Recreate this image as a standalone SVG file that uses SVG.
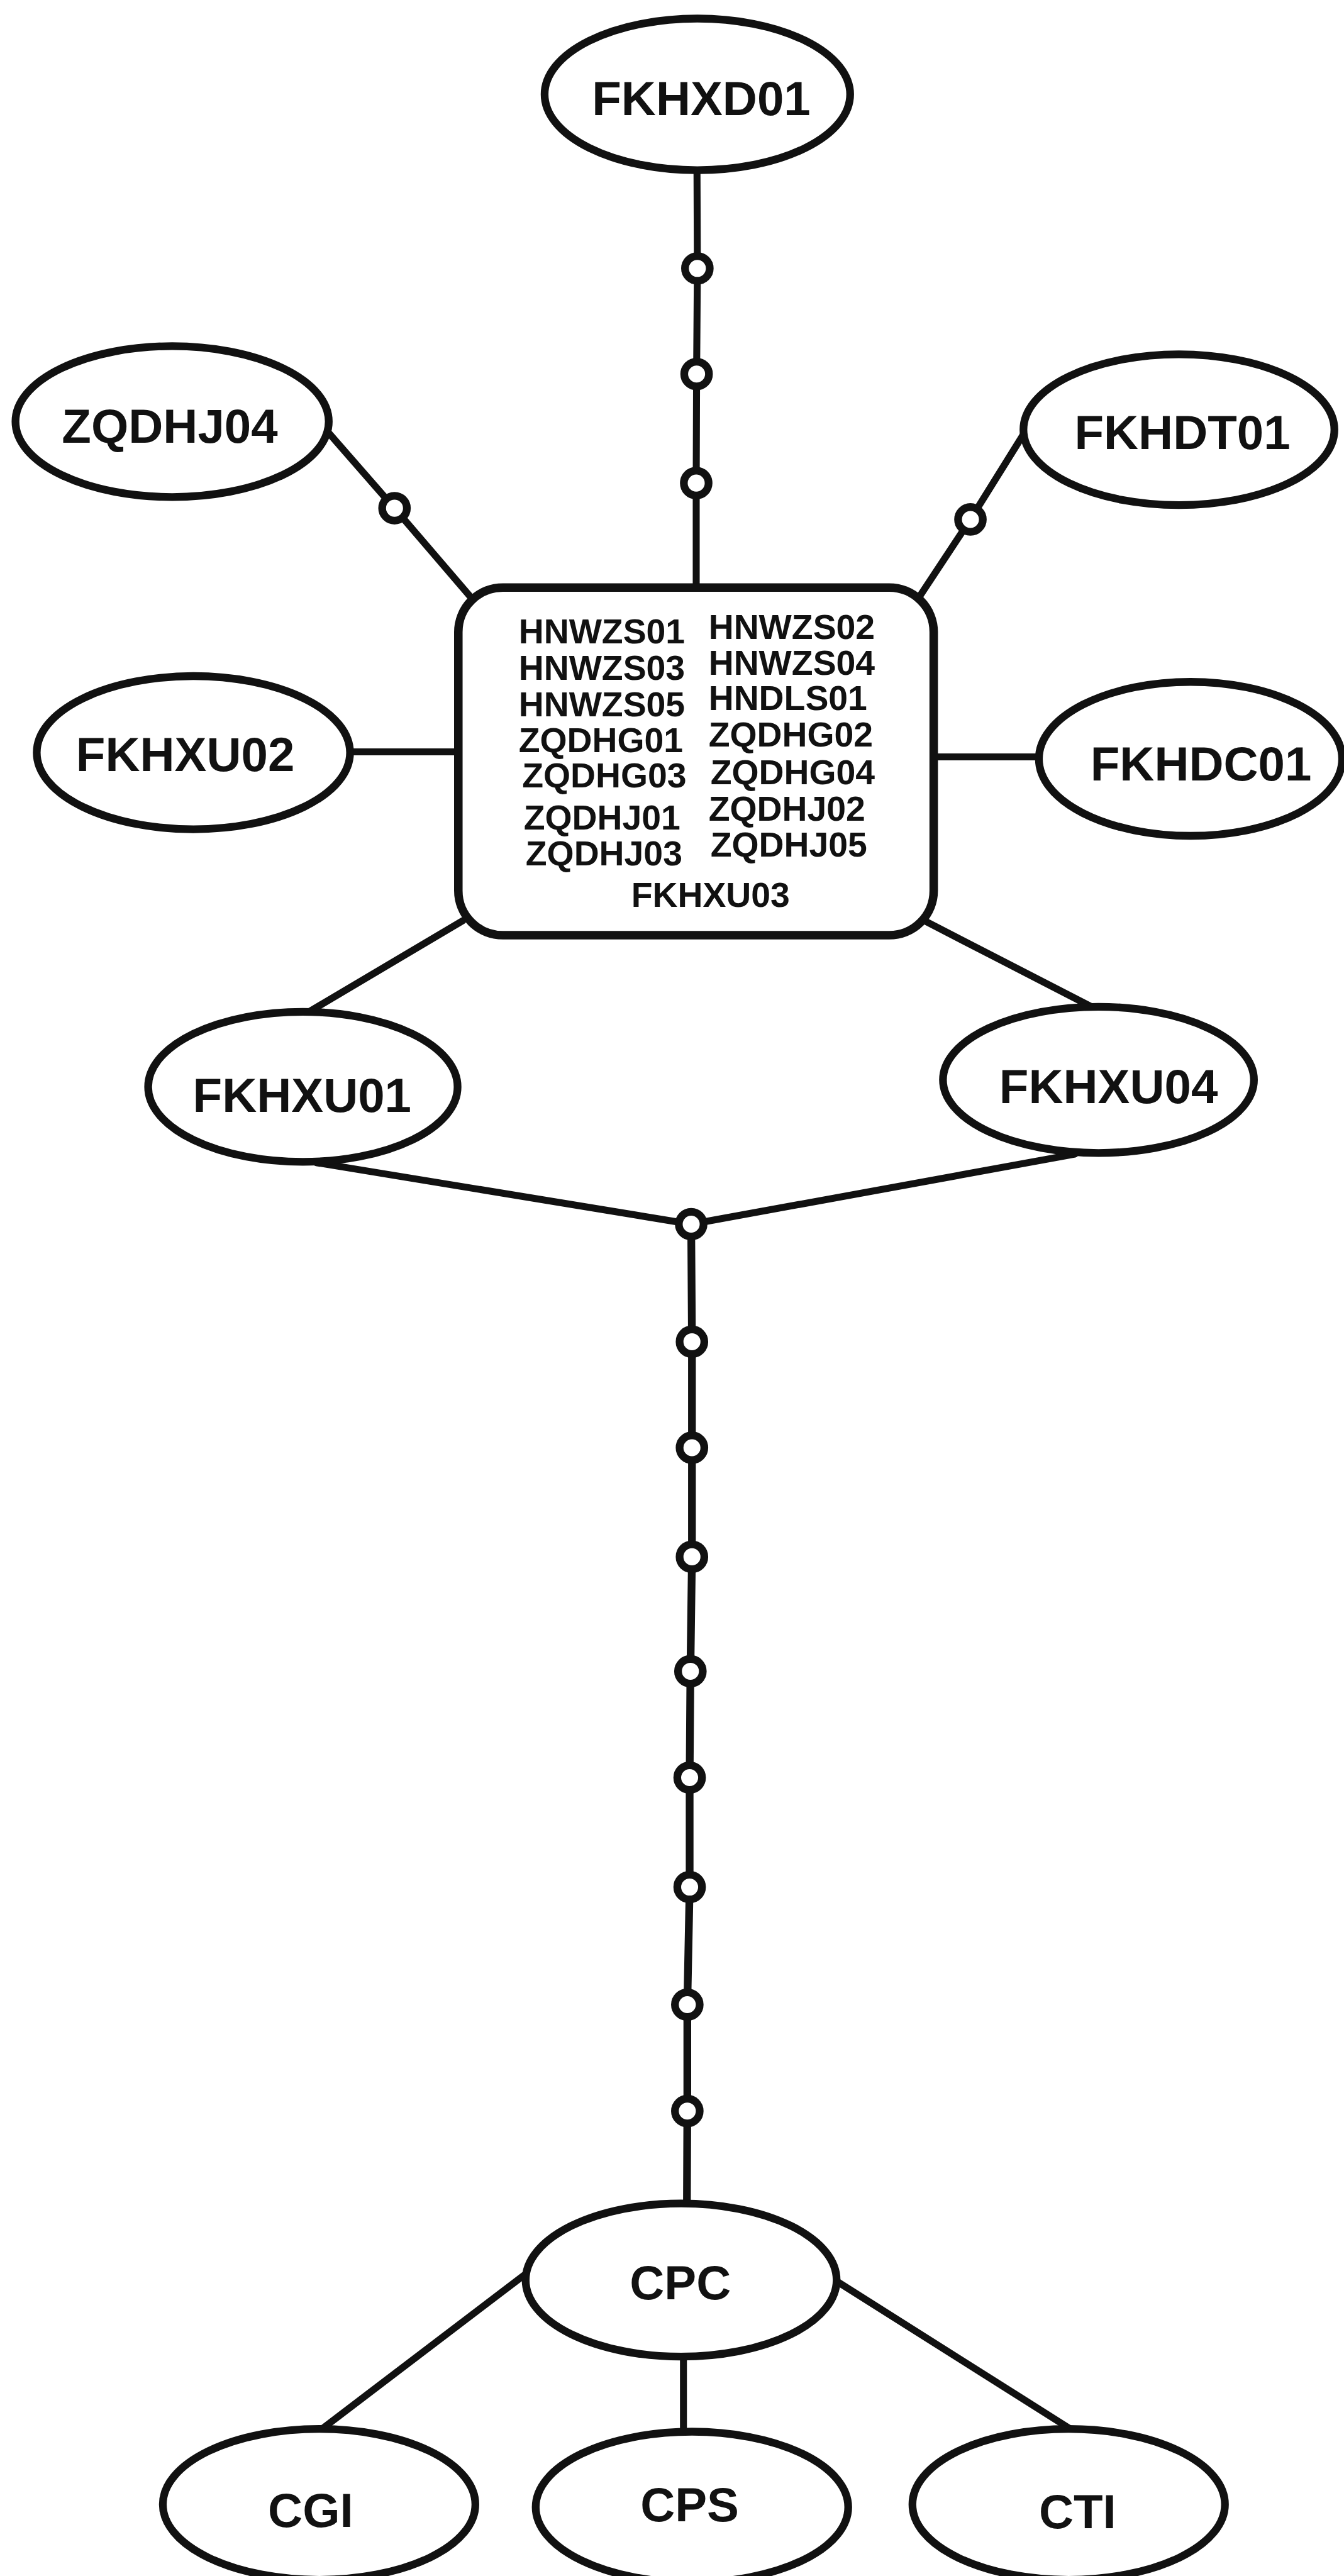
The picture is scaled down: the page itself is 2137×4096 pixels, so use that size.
<svg xmlns="http://www.w3.org/2000/svg" width="2137" height="4096" viewBox="0 0 2137 4096">
<style>
.n{fill:#fff;stroke:#111;stroke-width:20}
.c{fill:none;stroke:#111;stroke-width:18;stroke-linecap:round;stroke-linejoin:round}
.d{fill:#fff;stroke:#111;stroke-width:20}
.t{font-family:"Liberation Sans",Arial,sans-serif;font-weight:bold;font-size:124px;fill:#111;text-anchor:middle}
.s{font-family:"Liberation Sans",Arial,sans-serif;font-weight:bold;font-size:90px;fill:#111}
</style>
<rect x="0" y="0" width="2137" height="4096" fill="#fff"/>
<g transform="scale(0.615)">
<g id="connectors">
<polyline class="c" points="1802,440 1803,694 1801,967 1800,1249 1800,1519"/>
<polyline class="c" points="846,1115 1020,1314 1219,1546"/>
<polyline class="c" points="2651,1115 2509,1343 2375,1546"/>
<line class="c" x1="904" y1="1944" x2="1185" y2="1944"/>
<line class="c" x1="2414" y1="1957" x2="2689" y2="1957"/>
<line class="c" x1="1197" y1="2380" x2="799" y2="2616"/>
<line class="c" x1="2389" y1="2380" x2="2824" y2="2604"/>
<line class="c" x1="818" y1="3006" x2="1787" y2="3165"/>
<line class="c" x1="2779" y1="2984" x2="1787" y2="3165"/>
<polyline class="c" style="stroke-width:20" points="1787,3165 1789,3469 1789,3743 1789,4025 1785,4321 1783,4596 1783,4879 1777,5183 1777,5458 1776,5697"/>
<line class="c" x1="1354" y1="5883" x2="831" y2="6281"/>
<line class="c" x1="1767" y1="6092" x2="1767" y2="6287"/>
<line class="c" x1="2163" y1="5898" x2="2769" y2="6281"/>
<g id="dots">
<circle class="d" cx="1803" cy="694" r="32"/>
<circle class="d" cx="1801" cy="967" r="32"/>
<circle class="d" cx="1800" cy="1249" r="32"/>
<circle class="d" cx="1020" cy="1314" r="32"/>
<circle class="d" cx="2509" cy="1343" r="32"/>
<circle class="d" cx="1787" cy="3165" r="32"/>
<circle class="d" cx="1789" cy="3469" r="32"/>
<circle class="d" cx="1789" cy="3743" r="32"/>
<circle class="d" cx="1789" cy="4025" r="32"/>
<circle class="d" cx="1785" cy="4321" r="32"/>
<circle class="d" cx="1783" cy="4596" r="32"/>
<circle class="d" cx="1783" cy="4879" r="32"/>
<circle class="d" cx="1777" cy="5183" r="32"/>
<circle class="d" cx="1777" cy="5458" r="32"/>
</g>
</g>
<g id="FKHXD01"><ellipse class="n" cx="1803" cy="244" rx="395" ry="196"/><text class="t" x="1813" y="297">FKHXD01</text></g>
<g id="ZQDHJ04"><ellipse class="n" cx="445" cy="1090" rx="405" ry="195"/><text class="t" x="439" y="1144">ZQDHJ04</text></g>
<g id="FKHDT01"><ellipse class="n" cx="3048" cy="1111" rx="402" ry="195"/><text class="t" x="3057" y="1161">FKHDT01</text></g>
<g id="FKHXU02"><ellipse class="n" cx="500" cy="1946" rx="405" ry="198"/><text class="t" x="479" y="1994">FKHXU02</text></g>
<g id="FKHDC01"><ellipse class="n" cx="3078" cy="1962" rx="392" ry="199"/><text class="t" x="3105" y="2018">FKHDC01</text></g>
<g id="hub">
<rect x="1185" y="1519" width="1229" height="899" rx="115" ry="115" fill="#fff" stroke="#111" stroke-width="22"/>
<text class="s" x="1341" y="1663">HNWZS01</text>
<text class="s" x="1341" y="1758">HNWZS03</text>
<text class="s" x="1341" y="1852">HNWZS05</text>
<text class="s" x="1341" y="1944">ZQDHG01</text>
<text class="s" x="1350" y="2035">ZQDHG03</text>
<text class="s" x="1354" y="2144">ZQDHJ01</text>
<text class="s" x="1359" y="2238">ZQDHJ03</text>
<text class="s" x="1832" y="1652">HNWZS02</text>
<text class="s" x="1832" y="1744">HNWZS04</text>
<text class="s" x="1832" y="1836">HNDLS01</text>
<text class="s" x="1832" y="1930">ZQDHG02</text>
<text class="s" x="1837" y="2028">ZQDHG04</text>
<text class="s" x="1832" y="2122">ZQDHJ02</text>
<text class="s" x="1837" y="2214">ZQDHJ05</text>
<text class="s" x="1837" y="2344" text-anchor="middle">FKHXU03</text>
</g>
<g id="FKHXU01"><ellipse class="n" cx="783" cy="2810" rx="400" ry="194"/><text class="t" x="781" y="2874">FKHXU01</text></g>
<g id="FKHXU04"><ellipse class="n" cx="2840" cy="2792" rx="402" ry="189"/><text class="t" x="2866" y="2852">FKHXU04</text></g>
<g id="CPC"><ellipse class="n" cx="1761" cy="5895" rx="402" ry="198"/><text class="t" x="1759" y="5944">CPC</text></g>
<g id="CGI"><ellipse class="n" cx="825" cy="6475" rx="404" ry="195"/><text class="t" x="803" y="6534">CGI</text></g>
<g id="CPS"><ellipse class="n" cx="1789" cy="6482" rx="404" ry="195"/><text class="t" x="1783" y="6518">CPS</text></g>
<g id="CTI"><ellipse class="n" cx="2763" cy="6475" rx="404" ry="195"/><text class="t" x="2786" y="6536">CTI</text></g>
</g>
</svg>
